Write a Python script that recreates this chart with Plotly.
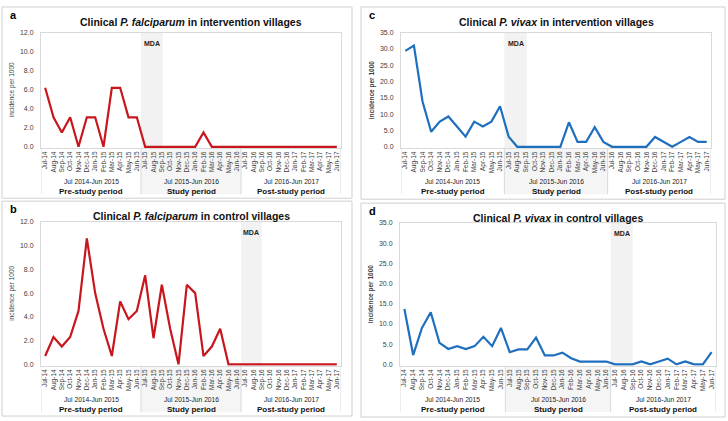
import plotly.graph_objects as go

W, H = 728, 421

months = ["Jul-14", "Aug-14", "Sep-14", "Oct-14", "Nov-14", "Dec-14", "Jan-15", "Feb-15", "Mar-15", "Apr-15", "May-15", "Jun-15",
          "Jul-15", "Aug-15", "Sep-15", "Oct-15", "Nov-15", "Dec-15", "Jan-16", "Feb-16", "Mar-16", "Apr-16", "May-16", "Jun-16",
          "Jul-16", "Aug-16", "Sep-16", "Oct-16", "Nov-16", "Dec-16", "Jan-17", "Feb-17", "Mar-17", "Apr-17", "May-17", "Jun-17"]

pf_intervention = [6.2, 3.1, 1.5, 3.1, 0.0, 3.1, 3.1, 0.0, 6.2, 6.2, 3.1, 3.1,
                   0.0, 0.0, 0.0, 0.0, 0.0, 0.0, 0.0, 1.5, 0.0, 0.0, 0.0, 0.0,
                   0.0, 0.0, 0.0, 0.0, 0.0, 0.0, 0.0, 0.0, 0.0, 0.0, 0.0, 0.0]
pf_control = [0.7, 2.3, 1.5, 2.3, 4.5, 10.6, 6.0, 3.0, 0.7, 5.3, 3.8, 4.5,
              7.5, 2.2, 6.7, 3.0, 0.0, 6.7, 6.0, 0.7, 1.5, 3.0, 0.0, 0.0,
              0.0, 0.0, 0.0, 0.0, 0.0, 0.0, 0.0, 0.0, 0.0, 0.0, 0.0, 0.0]
pv_intervention = [29.4, 31.0, 13.9, 4.6, 7.7, 9.3, 6.2, 3.1, 7.7, 6.2, 7.7, 12.4,
                   3.1, 0.0, 0.0, 0.0, 0.0, 0.0, 0.0, 7.5, 1.5, 1.5, 6.0, 1.5,
                   0.0, 0.0, 0.0, 0.0, 0.0, 3.0, 1.5, 0.0, 1.5, 3.0, 1.5, 1.5]
pv_control = [13.7, 2.3, 9.0, 12.9, 5.3, 3.8, 4.5, 3.8, 4.5, 6.8, 4.5, 9.0,
              3.0, 3.7, 3.7, 6.6, 2.2, 2.2, 2.9, 1.5, 0.7, 0.7, 0.7, 0.7,
              0.0, 0.0, 0.0, 0.7, 0.0, 0.7, 1.4, 0.0, 0.7, 0.0, 0.0, 3.0]

periods = ["Jul 2014-Jun 2015", "Jul 2015-Jun 2016", "Jul 2016-Jun 2017"]
period_names = ["Pre-study period", "Study period", "Post-study period"]

RED = "#c8161d"
BLUE = "#1f6fbf"
FONT = "Liberation Sans"
GRID = "#d9d9d9"


def px(x):
    return x / W


def py(y):
    return 1 - y / H


panels = [
    dict(letter="a", title="<b>Clinical <i>P. falciparum</i> in intervention villages</b>", data=pf_intervention,
         color=RED, ymax=12, step=2, box=(41, 29, 341, 146), frame=(2, 3, 352, 197), mda=(11.5, 14.1), bold=False,
         lab_bottom=193),
    dict(letter="c", title="<b>Clinical <i>P. vivax</i> in intervention villages</b>", data=pv_intervention,
         color=BLUE, ymax=35, step=5, box=(401, 29, 711, 146), frame=(361, 3, 725, 198), mda=(11.5, 14.1), bold=True,
         lab_bottom=193),
    dict(letter="b", title="<b>Clinical <i>P. falciparum</i> in control villages</b>", data=pf_control,
         color=RED, ymax=12, step=2, box=(41, 221, 341, 367), frame=(2, 200, 352, 418), mda=(23.5, 26.0), bold=False,
         lab_bottom=414),
    dict(letter="d", title="<b>Clinical <i>P. vivax</i> in control villages</b>", data=pv_control,
         color=BLUE, ymax=35, step=5, box=(400, 222, 716, 367), frame=(361, 202, 725, 419), mda=(23.5, 26.0), bold=True,
         lab_bottom=414),
]

fig = go.Figure()
shapes = []
annotations = []
xs = list(range(len(months)))

for i, p in enumerate(panels):
    n = "" if i == 0 else str(i + 1)
    xa, ya = "x" + n, "y" + n
    x0, y0, x1, y1 = p["box"]
    fig.add_trace(go.Scatter(x=xs, y=p["data"], mode="lines", line=dict(color=p["color"], width=2.2),
                             xaxis=xa, yaxis=ya, showlegend=False, hoverinfo="skip"))
    ymax = p["ymax"]
    fig.layout["xaxis" + n] = dict(
        domain=[px(x0), px(x1)], anchor=ya, range=[-0.5, len(months) - 0.5],
        tickmode="array", tickvals=xs, ticktext=months, tickangle=-90,
        tickfont=dict(family=FONT, size=6.5, color="#404040"),
        showgrid=False, zeroline=False, showline=True, mirror=True, linecolor=GRID, linewidth=1,
        ticks="", fixedrange=True)
    fig.layout["yaxis" + n] = dict(
        domain=[py(y1), py(y0)], anchor=xa, range=[-ymax * 0.01, ymax],
        tickmode="array", tickvals=[v for v in range(0, ymax + 1, p["step"])],
        ticktext=["%.1f" % v for v in range(0, ymax + 1, p["step"])],
        tickfont=dict(family=FONT, size=7, color="#404040"), ticklabelstandoff=5,
        showgrid=False, zeroline=False, showline=True, mirror=True, linecolor=GRID, linewidth=1,
        ticks="", fixedrange=True)

    fx0, fy0, fx1, fy1 = p["frame"]
    shapes.append(dict(type="rect", xref="paper", yref="paper", x0=px(fx0), x1=px(fx1), y0=py(fy1), y1=py(fy0),
                       line=dict(color="#cfcfcf", width=1), fillcolor="rgba(0,0,0,0)", layer="below"))
    m0, m1 = p["mda"]
    shapes.append(dict(type="rect", xref=xa, yref=ya + " domain", x0=m0, x1=m1, y0=0, y1=1,
                       fillcolor="#f2f2f2", line=dict(width=0), layer="below"))
    lb = p["lab_bottom"]
    shapes.append(dict(type="rect", xref=xa, yref="paper", x0=11.5, x1=23.5, y0=py(lb), y1=py(y1),
                       fillcolor="#f5f5f5", line=dict(width=0), layer="below"))
    for dv in [-0.5, 11.5, 23.5, 35.5]:
        shapes.append(dict(type="line", xref=xa, yref="paper", x0=dv, x1=dv, y0=py(lb), y1=py(y1),
                           line=dict(color=GRID, width=1), layer="below"))
    for k in range(3):
        cx = 5.5 + 12 * k
        annotations.append(dict(xref=xa, yref="paper", x=cx, y=py(y1 + 34), text=periods[k], showarrow=False,
                                font=dict(family=FONT, size=6.7, color="#222222"), xanchor="center", yanchor="middle"))
        annotations.append(dict(xref=xa, yref="paper", x=cx, y=py(y1 + 44.5), text="<b>%s</b>" % period_names[k],
                                showarrow=False, font=dict(family=FONT, size=8, color="#111111"),
                                xanchor="center", yanchor="middle"))
    annotations.append(dict(xref=xa, yref="paper", x=(m0 + m1) / 2, y=py(y0 + 11), text="<b>MDA</b>",
                            showarrow=False, font=dict(family=FONT, size=7, color="#222222"),
                            xanchor="center", yanchor="middle"))
    annotations.append(dict(xref="paper", yref="paper", x=px((x0 + x1) / 2), y=py(fy0 + 15), text=p["title"],
                            showarrow=False, font=dict(family=FONT, size=10.5, color="#111111"),
                            xanchor="center", yanchor="middle"))
    annotations.append(dict(xref="paper", yref="paper", x=px(fx0 + 6), y=py(fy0 + 8), text="<b>%s</b>" % p["letter"],
                            showarrow=False, font=dict(family=FONT, size=11, color="#000000"),
                            xanchor="left", yanchor="middle"))
    yt = "<b>incidence per 1000</b>" if p["bold"] else "incidence per 1000"
    annotations.append(dict(xref="paper", yref="paper", x=px(x0 - 29), y=py((y0 + y1) / 2), text=yt, textangle=-90,
                            showarrow=False, font=dict(family=FONT, size=6.5, color="#404040"),
                            xanchor="center", yanchor="middle"))

fig.update_layout(width=W, height=H, margin=dict(l=0, r=0, t=0, b=0), paper_bgcolor="white",
                  plot_bgcolor="rgba(0,0,0,0)", shapes=shapes, annotations=annotations, showlegend=False)

post = ("document.body.style.margin='0';document.body.style.padding='0';"
        "var d=document.getElementById('{plot_id}');d.style.position='fixed';d.style.left='0px';d.style.top='0px';")
fig.write_html("out.html", config={"displayModeBar": False}, post_script=post)
